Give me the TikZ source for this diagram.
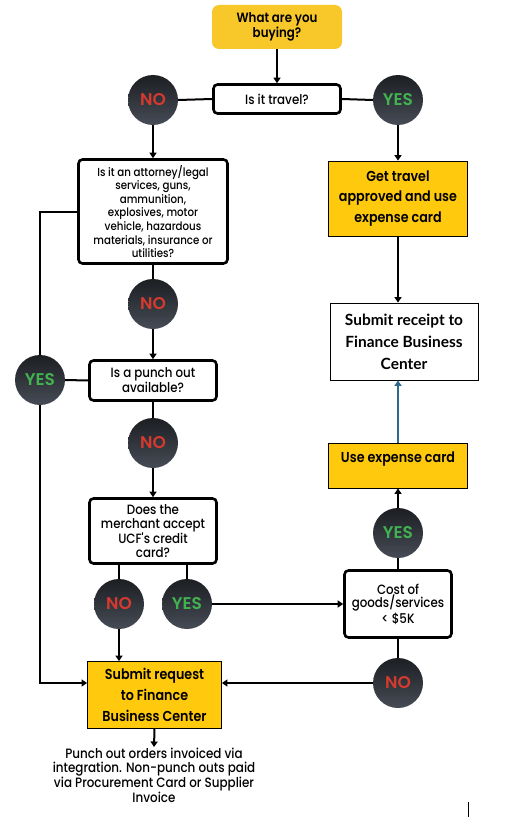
\documentclass[tikz,border=0pt]{standalone}
\usepackage{fontspec}
\setmainfont{Poppins}
\newfontfamily\askfont{Poppins Medium}[FakeStretch=0.88]
\newfontfamily\actfont{Poppins SemiBold}[FakeStretch=0.88]
\newfontfamily\ballfont{Poppins SemiBold}
\newfontfamily\receiptfont{Lato}
\usetikzlibrary{arrows.meta}
\definecolor{buyyellow}{RGB}{248,200,42}
\definecolor{actyellow}{RGB}{255,201,14}
\definecolor{nored}{RGB}{214,58,47}
\definecolor{yesgreen}{RGB}{66,178,80}
\definecolor{darkball}{RGB}{28,30,34}
\definecolor{lightball}{RGB}{70,76,86}
\definecolor{linkblue}{RGB}{46,106,140}

\begin{document}
\begin{tikzpicture}[x=1bp,y=-1bp,
		startnode/.style={rounded corners=7bp, fill=buyyellow, align=center, font=\actfont\fontsize{13.5}{14}\selectfont, minimum width=130bp, minimum height=44bp},
		asknode/.style={rounded corners=4bp, draw=black, line width=2.6bp, fill=white, align=center, inner sep=1bp, font=\askfont\fontsize{13.5}{13.7}\selectfont},
		actnode/.style={draw=black, line width=0.8bp, fill=actyellow, align=center, inner sep=1bp, font=\actfont\fontsize{14.5}{20.8}\selectfont},
		roundnode/.style={circle, minimum size=50bp, inner sep=0bp, top color=darkball, bottom color=lightball, font=\ballfont\fontsize{17}{17}\selectfont},
		nonode/.style={roundnode, text=nored},
		yesnode/.style={roundnode, text=yesgreen},
		link/.style={line width=2bp, -{Triangle[width=7bp,length=5.5bp]}},
		plain/.style={line width=2bp},
		]
		\useasboundingbox (0,0) rectangle (516,819);
		%Nodes
		\node[startnode]   (buy)      at (277,27)    {What are you\\buying?};
		\node[asknode, minimum width=127bp, minimum height=29bp] (travel) at (277,99) {Is it travel?};
		\node[nonode]      (no1)      at (153,100)   {NO};
		\node[yesnode]     (yes1)     at (398,100)   {YES};
		\node[asknode, minimum width=149bp, minimum height=104bp, font=\askfont\fontsize{11.7}{13.7}\selectfont] (legal) at (153,211.5) {Is it an attorney/legal\\services, guns,\\ammunition,\\explosives, motor\\vehicle, hazardous\\materials, insurance or\\utilities?};
		\node[actnode, minimum width=139bp, minimum height=75bp] (travelok) at (398,198.5) {Get travel\\approved and use\\expense card};
		\node[nonode]      (no2)      at (153,304)   {NO};
		\node[asknode, minimum width=127bp, minimum height=40bp] (punch) at (153,380.5) {Is a punch out\\available?};
		\node[yesnode]     (yes2)     at (40,380)    {YES};
		\node[nonode]      (no3)      at (153,443)   {NO};
		\node[asknode, minimum width=127bp, minimum height=65bp] (merchant) at (153,531) {Does the\\merchant accept\\UCF's credit\\card?};
		\node[actnode, fill=white, minimum width=148bp, minimum height=77bp, font=\receiptfont\bfseries\fontsize{15.5}{22}\selectfont] (receipt) at (404,341.5) {Submit receipt to\\Finance Business\\Center};
		\node[actnode, minimum width=139bp, minimum height=45bp] (usecard) at (398,465.5) {Use expense card\\[-4bp]\mbox{}};
		\node[yesnode]     (yes4)     at (398,533)   {YES};
		\node[nonode]      (no4)      at (119,604)   {NO};
		\node[yesnode]     (yes3)     at (187,604)   {YES};
		\node[asknode, minimum width=107bp, minimum height=67bp] (cost) at (398,604) {Cost of\\goods/services\\< \$5K};
		\node[nonode]      (no5)      at (398,683)   {NO};
		\node[actnode, minimum width=134bp, minimum height=67bp] (submit) at (154.5,695) {Submit request\\to Finance\\Business Center};
		\node[align=center, anchor=north, inner sep=1bp, font=\askfont\fontsize{13.6}{13.7}\selectfont] (note) at (154,747) {Punch out orders invoiced via\\integration. Non-punch outs paid\\via Procurement Card or Supplier\\Invoice};
		\coordinate (marktop) at (468,802);
		\coordinate (markbot) at (468,817);

		%Connectors
		\draw[link]  (buy.south) -- (travel.north);
		\draw[plain] (no1.east) -- (travel.west);
		\draw[plain] (travel.east) -- (yes1.west);
		\draw[link]  (no1.south) -- (legal.north);
		\draw[link]  (yes1.south) -- (yes1.south |- travelok.north);
		\draw[link]  (travelok.south) -- (travelok.south |- receipt.north);
		\draw[plain] (legal.south) -- (no2.north);
		\draw[link]  (no2.south) -- (punch.north);
		\draw[plain] (legal.west) -| (yes2.north);
		\draw[plain] (yes2.east) -- (punch.west);
		\draw[link]  (yes2.south) |- (submit.west |- no5.west);
		\draw[plain] (punch.south) -- (no3.north);
		\draw[link]  (no3.south) -- (merchant.north);
		\draw[plain] (no4.north |- merchant.south) -- (no4.north);
		\draw[plain] (yes3.north |- merchant.south) -- (yes3.north);
		\draw[link]  (no4.south) -- (no4.south |- submit.north);
		\draw[link]  (yes3.east) -- (cost.west);
		\draw[link]  (yes4.north) -- (yes4.north |- usecard.south);
		\draw[link, draw=linkblue] (usecard.north) -- (usecard.north |- receipt.south);
		\draw[plain] (yes4.south) -- (cost.north);
		\draw[plain] (cost.south) -- (no5.north);
		\draw[link]  (no5.west) -- (no5.west -| submit.east);
		\draw[link]  (submit.south) -- (note.north);
		\draw[line width=0.8bp] (marktop) -- (markbot);
\end{tikzpicture}
\end{document}
